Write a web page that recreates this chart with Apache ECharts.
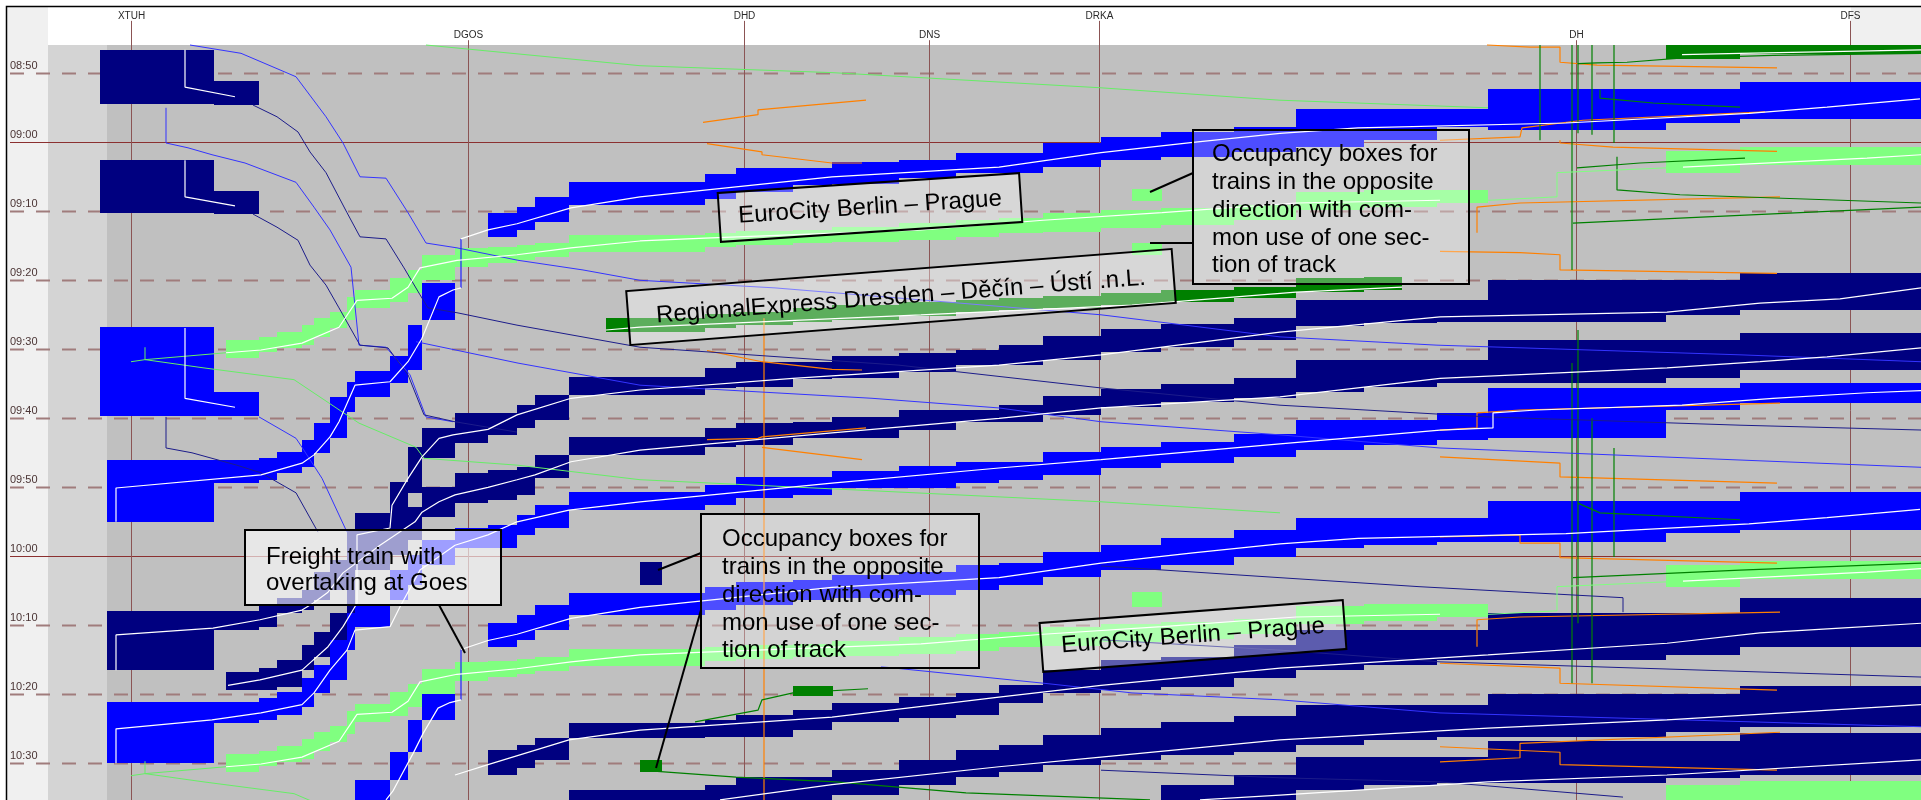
<!DOCTYPE html>
<html>
<head>
<meta charset="utf-8">
<title>Blocking time diagram XTUH - DFS</title>
<script src="https://cdn.jsdelivr.net/npm/echarts@6.0.0/dist/echarts.min.js"></script>
<style>
  html, body { margin: 0; padding: 0; background: #ffffff; }
  #chart { width: 1921px; height: 800px; }
</style>
</head>
<body>
<div id="chart"></div>
<script>
// stations (km along the line) and clock ticks (minutes after 08:00)
var stations = ['XTUH', 'DGOS', 'DHD', 'DNS', 'DRKA', 'DH', 'DFS'];
var stationKm = [6.55, 23.4, 37.2, 46.45, 54.95, 78.8, 92.5];
var timeTicks = [50, 60, 70, 80, 90, 100, 110, 120, 130, 140, 150];
var timeLabels = ['08:50', '09:00', '09:10', '09:20', '09:30', '09:40', '09:50', '10:00', '10:10', '10:20', '10:30'];

// block section limits (km)
var blockKm = [5.35, 10.7, 11.3, 12.95, 13.85, 15.1, 15.7, 16.5, 17.35, 17.75, 19.5, 20.4, 21.1, 22.75,
  24.4, 25.85, 26.75, 28.45, 35.25, 36.8, 39.65, 41.6, 44.95, 47.8, 49.95, 52.15, 55.05, 58.05,
  61.7, 64.8, 68.2, 71.85, 74.4, 83.3, 87.0, 96.05];

// blocking stairs: first value = first block section, then [occupied from, occupied to] in minutes
var freight1Main = [14, [70.2, 73.7], [69.4, 72.7], [67.9, 71.5], [65.8, 69.1], [64.6, 68.2], [63.7, 67.2], [63.7, 66.2],
  [62.9, 66.0], [62.6, 65.2], [61.5, 64.4], [61.5, 64.4], [60.1, 63.6], [59.2, 62.6], [58.5, 62.1], [57.8, 61.4],
  [55.2, 60.7], [55.2, 59.7], [55.2, 57.8], [52.3, 58.2], [52.3, 57.2], [51.3, 56.6]];
var freight1Down = [0, [106.0, 115.0], [106.0, 109.4], [106.0, 109.4], [105.8, 108.9], [104.9, 107.9], [103.1, 107.1],
  [100.7, 105.0], [96.9, 102.9], [94.7, 99.1], [93.1, 96.9], [91.0, 94.9], [86.5, 93.0], [80.4, 85.8]];
var freight2Main = [14, [129.7, 133.1], [128.5, 132.1], [127.1, 130.7], [125.3, 128.5], [124.4, 127.8], [123.7, 127.1],
  [123.4, 126.3], [122.7, 126.0], [122.3, 125.6], [121.3, 124.9], [121.0, 124.2], [119.4, 123.0], [118.4, 122.0],
  [117.3, 121.3], [116.2, 120.1], [114.4, 118.8], [114.4, 118.4], [114.4, 117.9], [112.0, 117.9], [112.0, 116.6], [110.7, 116.2]];
var freight2Down = [9, [152.4, 155.3], [148.4, 152.4], [143.7, 148.4], [139.8, 143.7]];

var ec1 = [2, [88.7, 91.3], [88.2, 90.4], [87.5, 89.8], [86.5, 89.4], [85.5, 88.2], [84.6, 86.9], [82.4, 85.8], [81.4, 84.0],
  [79.7, 83.1], [78.5, 81.8], [76.3, 80.0], [75.3, 78.1],
  [75.2, 77.5], [74.9, 77.1], [74.6, 76.6], [73.4, 75.9], [73.1, 75.2], [72.9, 74.9], [72.7, 74.6], [72.3, 74.4],
  [71.7, 74.2], [71.3, 73.7], [71.0, 73.1], [70.2, 73.0], [69.8, 72.4], [69.5, 72.0], [69.1, 71.3], [67.2, 69.8],
  [66.9, 69.4], [66.9, 68.8], null, [61.3, 64.4], [60.7, 63.3]];
var ec2 = [2, [148.7, 151.3], [148.2, 150.4], [147.5, 149.8], [146.5, 149.4], [145.5, 148.2], [144.6, 146.9], [142.4, 145.8],
  [141.4, 144.0], [139.7, 143.1], [138.5, 141.8], [136.3, 140.0], [135.3, 138.1],
  [135.2, 137.5], [134.9, 137.1], [134.6, 136.6], [133.4, 135.9], [133.1, 135.2], [132.9, 134.9], [132.7, 134.6], [132.3, 134.4],
  [131.7, 134.2], [131.3, 133.7], [131.0, 133.1], [130.2, 133.0], [129.8, 132.4], [129.5, 132.0], [129.1, 131.3], [127.2, 129.8],
  [126.9, 129.4], [126.9, 128.8], null, [121.3, 124.4], [120.7, 123.3]];
var ec3 = [33, [153.1, 156], [152.6, 156]];

var regional = [18, [84.9, 86.9], [84.6, 86.5], [84.0, 86.0], [83.6, 85.8], [83.1, 85.2], [82.9, 84.6],
  [82.6, 84.3], [82.3, 84.0], [81.8, 83.6], [81.4, 83.1], [81.0, 82.6], [79.7, 81.7]];
var regionalEnds = [[30.3, 35.25, 85.5, 87.5], [68.2, 70.1, 79.5, 81.4]];
var regionalEarlier = [33, [45.9, 47.9], [45.9, 47.2]];

var navy1Main = [14, [99.2, 102.4], [98.1, 101.4], [96.6, 100.2], [94.0, 96.6], [92.7, 95.6], [91.8, 95.5], [91.8, 94.3],
  [91.0, 94.2], [90.5, 93.3], [90.1, 92.3], [89.4, 92.3], [88.1, 91.5], [87.1, 90.4], [86.3, 89.7], [85.5, 88.7],
  [82.9, 86.6], [82.9, 86.2], [82.9, 86.0], [80.0, 86.0], [80.0, 85.0], [78.9, 84.3]];
var navy1Down = [2, [136.8, 139.4], [136.2, 139.4], [135.0, 138.9], [132.9, 136.5], [131.0, 134.6], [128.2, 132.6],
  [116.2, 130.2], [113.7, 118.1], [109.2, 115.0], [104.2, 110.8], [101.4, 105.8], [99.2, 103.6]];
var navy2Main = [14, [107.5, 111.8], [107.1, 111.1], [105.3, 108.7], [102.7, 105.3], [101.4, 104.2], [100.7, 103.9],
  [100.5, 102.9], [99.8, 102.9], [98.8, 101.7], [98.8, 100.5], [98.1, 100.5], [96.8, 99.5], [95.8, 98.4], [95.0, 97.6],
  [94.2, 97.1], [91.5, 96.2], [91.5, 95.5], [91.5, 94.9], [88.7, 94.9], [88.7, 94.2], [87.6, 93.0]];
var navy2Down = [0, [127.9, 136.5], [127.9, 130.7], [127.9, 130.7], [127.1, 130.2], [126.0, 128.2], [124.9, 127.8],
  [122.3, 126.3], [120.5, 124.9], [119.1, 123.4], [117.6, 122.0], [114.7, 119.8], [112.9, 117.6], [110.0, 114.3], [107.9, 112.3]];
var blue3Main = [14, [115.5, 118.8], [114.0, 116.9], [112.6, 115.9], [110.7, 113.3], [109.7, 112.6], [108.5, 111.5],
  [108.5, 111.1], [107.6, 110.1], [106.9, 110.1], [106.3, 109.4], [106.3, 108.9], [104.9, 108.2], [104.2, 107.2],
  [103.4, 106.5], [102.3, 105.6], [100.2, 104.6], [100.2, 103.9], [99.2, 103.1], [95.6, 102.9], [95.6, 98.8], [94.9, 97.8]];
var blue3Down = [0, [141.1, 150.0], [141.1, 144.2], [141.1, 144.2], [140.5, 143.7], [139.7, 143.0], [137.6, 141.8],
  [135.8, 139.8], [132.1, 137.9], [128.2, 133.6], [127.1, 130.2], [122.0, 126.3], [119.8, 124.2], [117.6, 121.3], [115.9, 118.8]];
var navy3 = [14, [148.1, 151.7], [147.3, 150.7], [146.3, 149.5], [144.2, 146.3], [143.7, 146.2], [143.0, 146.2], [142.3, 145.2],
  [141.3, 144.0], [140.4, 143.4], [139.8, 143.0], [138.7, 141.3], [136.5, 139.8], [135.0, 139.4], [134.6, 138.9],
  [132.9, 137.6], [130.7, 136.5], [130.7, 135.8], [130.7, 135.0], [128.2, 135.0], [128.2, 134.3], [126.0, 133.1]];
var navy4 = [17, [153.9, 156], [153.1, 156], [152.0, 155.4], [152.0, 155.4], [151.0, 154.6], [149.5, 153.1], [148.1, 152.0],
  [147.3, 151.3], [145.9, 150.2], [144.9, 149.5], [144.0, 148.8], [143.1, 148.4], [141.5, 147.3], [141.5, 146.6],
  [141.5, 146.2], [140.0, 146.2], [140.0, 145.5], [138.8, 144.7]];
var navy5 = [27, [153.1, 156], [151.7, 156], [149.1, 153.9], [149.1, 153.1], [149.1, 152.9], [146.8, 152.9], [146.8, 152.1], [145.6, 151.7]];

// station track occupation at XTUH and single occupancy boxes: [km from, km to, min from, min to]
var stationNavy = [[5.0, 10.7, 46.6, 54.4], [10.7, 12.95, 51.1, 54.6], [5.0, 10.7, 62.6, 70.2], [10.7, 12.95, 67.1, 70.4], [32.0, 33.1, 120.8, 124.2]];
var stationBlue = [[5.0, 10.7, 86.8, 99.7], [10.7, 12.95, 96.2, 99.7]];
var singleLightGreen = [[56.6, 58.1, 66.8, 68.5], [56.6, 58.1, 74.6, 76.3], [56.6, 58.1, 125.2, 127.3]];
var singleDarkGreen = [[32.0, 33.1, 149.5, 151.3], [39.65, 41.65, 138.8, 140.2]];

// train runs [km, min]
var freight1Path = [[96.0, 53.7], [91.35, 54.9], [87.45, 55.8], [78.3, 57.2], [67.9, 57.9], [64.0, 58.7], [59.65, 60.0], [55.05, 61.5],
  [49.95, 63.6], [41.6, 65.0], [32.0, 67.9], [28.55, 69.5], [25.85, 71.8], [24.4, 72.7], [23.05, 74.0]];
var freight1Wait = [[23.05, 74.0], [23.05, 81.1]];
var freight1DownPath = [[23.05, 81.1], [22.65, 81.4], [21.95, 82.4], [21.1, 88.4], [20.4, 91.8], [19.5, 94.7], [17.75, 95.2],
  [16.95, 100.5], [16.5, 102.7], [15.7, 105.3], [15.1, 106.5], [13.05, 108.2], [5.8, 110.1], [5.8, 115.0]];
var freight2Path = [[96.0, 113.2], [91.35, 114.4], [87.45, 115.3], [78.3, 116.7], [67.9, 117.4], [64.0, 118.2], [59.65, 119.5],
  [55.05, 121.0], [49.95, 123.1], [41.6, 124.5], [32.0, 127.4], [28.55, 129.0], [25.85, 131.3], [24.4, 132.2], [23.05, 133.5]];
var freight2Wait = [[23.05, 133.5], [23.05, 140.8]];
var freight2DownPath = [[23.05, 140.8], [22.5, 141.2], [21.9, 142.0], [21.15, 145.7], [20.65, 148.6], [20.0, 152.1], [19.65, 154.0], [19.3, 155.3]];
var ec1Far = [[96.05, 61.8], [93.35, 62.3], [84.15, 63.6]];
var ec1Stop = [[84.15, 63.6], [77.85, 64.4], [77.85, 67.9], [74.5, 68.4], [72.0, 68.4]];
var ec1Path = [[72.0, 68.4], [64.8, 68.8], [58.1, 70.2], [52.15, 71.3], [46.05, 72.7], [35.25, 73.9], [32.0, 74.3], [28.55, 75.3],
  [25.85, 76.3], [22.85, 77.1], [21.0, 78.2], [20.4, 81.0], [19.6, 82.6], [17.85, 82.9], [16.95, 86.8], [15.1, 89.1], [13.05, 90.1], [11.3, 90.5]];
var ec1Tail = [[11.3, 90.5], [7.25, 91.5], [7.25, 89.7]];
var ec2Far = [[96.05, 121.8], [93.35, 122.3], [84.15, 123.6]];
var ec2Stop = [[84.15, 123.6], [77.85, 124.4], [77.85, 127.9], [74.5, 128.4], [72.0, 128.4]];
var ec2Path = [[72.0, 128.4], [64.8, 128.8], [58.1, 130.2], [52.15, 131.3], [46.05, 132.7], [35.25, 133.9], [32.0, 134.3], [28.55, 135.3],
  [25.85, 136.3], [22.85, 137.1], [21.0, 138.2], [20.4, 141.0], [19.6, 142.6], [17.85, 142.9], [16.95, 146.8], [15.1, 149.1], [13.05, 150.1], [11.3, 150.5]];
var ec2Tail = [[11.3, 150.5], [7.25, 151.5], [7.25, 149.7]];
var navy1Path = [[96.05, 81.1], [92.0, 82.7], [88.0, 83.3], [83.35, 84.6], [72.0, 85.3], [64.0, 87.5], [55.05, 90.8], [49.95, 92.3],
  [39.65, 94.2], [32.0, 95.9], [28.55, 97.1], [25.85, 99.5], [24.4, 101.6], [22.65, 102.4], [21.95, 102.9], [21.1, 105.6],
  [20.4, 108.7], [19.6, 112.6], [19.5, 115.9], [17.85, 116.9], [17.85, 126.8], [17.15, 130.2], [16.4, 133.1], [15.1, 136.5], [13.0, 137.9], [11.4, 138.7]];
var navy2Path = [[96.05, 89.8], [91.35, 91.1], [88.0, 91.8], [83.35, 92.7], [72.0, 94.2], [64.0, 96.9], [55.05, 98.5], [49.95, 100.0],
  [41.6, 102.1], [32.0, 104.6], [28.55, 106.3], [26.75, 108.2], [25.85, 108.9], [24.4, 110.0], [22.75, 111.1], [21.95, 112.1],
  [21.1, 113.6], [20.75, 115.0], [19.0, 118.4], [17.15, 122.4], [16.4, 125.2], [15.65, 126.8], [15.1, 127.8], [13.0, 129.2],
  [10.65, 130.4], [5.8, 131.4], [5.8, 136.5]];
var blue3Path = [[96.05, 96.0], [93.35, 96.3], [88.65, 97.1], [84.1, 98.1], [76.85, 98.8], [74.65, 99.2], [74.65, 101.4], [72.0, 101.7],
  [64.0, 103.7], [55.05, 106.0], [49.95, 107.2], [41.6, 109.4], [32.0, 112.1], [28.45, 113.3], [25.85, 115.0], [24.4, 116.9],
  [22.75, 118.4], [21.0, 122.0], [20.0, 127.3], [19.5, 130.2], [17.75, 130.7], [17.35, 133.6], [16.5, 136.5], [15.7, 139.8],
  [15.1, 141.5], [13.05, 142.7], [10.6, 143.7], [5.8, 145.0], [5.8, 150.0]];
var navy3Path = [[96.05, 129.7], [92.0, 130.4], [88.0, 131.1], [83.35, 132.6], [74.4, 134.3], [64.0, 136.2], [55.05, 138.7],
  [49.95, 140.4], [41.6, 143.3], [32.0, 145.2], [28.45, 146.6], [24.4, 150.2], [22.75, 151.7]];
var navy4Path = [[96.05, 141.5], [83.35, 143.7], [74.4, 144.9], [64.0, 146.6], [55.05, 149.1], [49.95, 150.5], [41.6, 153.1], [36.0, 155.3]];
var navy5Path = [[96.05, 149.5], [83.35, 151.7], [74.4, 152.7], [64.0, 154.6], [60.0, 155.3]];
var regionalPath = [[70.1, 81.0], [64.8, 81.7], [56.6, 83.6], [46.05, 85.0], [32.0, 86.8], [30.3, 87.2]];
var regionalEarlierPath = [[84.1, 47.3], [87.0, 47.1], [96.05, 46.6]];
var xtuhDep1 = [[9.25, 46.6], [9.25, 52.0], [11.75, 53.4]];
var xtuhDep2 = [[9.25, 62.6], [9.25, 67.9], [11.75, 69.2]];
var xtuhDep3 = [[9.25, 86.9], [9.25, 97.1], [11.75, 98.4]];

// opposite direction runs (thin lines)
var blueRuns = [
  [[9.5, 45.9], [12.05, 47.1], [14.8, 50.5], [16.3, 56.3], [17.15, 60.1], [18.0, 65.0], [19.3, 65.2], [20.4, 70.2], [21.3, 74.6],
   [22.85, 75.3], [25.9, 77.1], [29.15, 78.5], [32.0, 80.0], [38.75, 81.1], [45.05, 82.6], [55.05, 85.0], [64.0, 88.2],
   [71.85, 89.4], [87.0, 90.8], [96.05, 91.8]],
  [[8.3, 55.0], [8.3, 60.1], [9.4, 60.8], [10.6, 61.8], [12.25, 63.0], [14.8, 65.8], [15.7, 69.4], [16.5, 72.7], [17.55, 78.1],
   [17.95, 89.4], [19.3, 89.7], [20.5, 93.7], [21.3, 99.8], [22.65, 100.5]],
  [[12.95, 99.8], [14.8, 102.9], [15.1, 104.2], [16.1, 108.7], [17.35, 116.5]],
  [[20.8, 88.9], [25.9, 92.0], [32.0, 95.2], [43.6, 97.1], [49.95, 98.5], [55.05, 100.5], [64.0, 102.4], [72.0, 104.3], [96.05, 107.1]],
  [[44.05, 136.0], [52.2, 138.4], [56.6, 139.8], [64.0, 140.8], [72.0, 142.7], [96.05, 144.7]]
];
var navyRuns = [
  [[12.65, 54.6], [13.85, 56.3], [14.9, 58.5], [15.5, 61.4], [16.3, 64.4], [17.35, 70.2], [18.0, 73.7], [19.3, 74.0], [20.2, 78.2],
   [21.0, 82.1], [21.4, 84.0], [22.85, 84.7], [25.85, 86.5], [32.0, 89.7], [44.95, 92.3], [55.05, 95.6], [64.0, 98.1],
   [74.4, 99.8], [87.0, 101.0], [96.05, 101.7]],
  [[12.65, 70.4], [13.85, 72.3], [14.9, 74.2], [15.5, 77.8], [16.3, 80.7], [16.95, 84.0], [18.0, 89.4], [19.4, 89.8], [20.4, 93.7],
   [21.2, 99.5], [22.75, 100.5], [25.85, 102.0]],
  [[8.3, 99.8], [8.3, 104.3], [9.6, 105.0], [11.85, 106.8], [13.05, 107.9], [14.8, 110.8], [15.9, 116.5]],
  [[55.05, 132.1], [64.0, 133.6], [72.0, 135.3], [96.05, 137.5]],
  [[55.05, 121.4], [64.0, 123.1], [70.95, 124.4], [81.15, 126.0], [81.15, 128.1]],
  [[55.05, 151.0], [64.0, 152.1], [72.0, 152.7], [81.15, 154.9]]
];
var lightGreenRuns = [
  [[6.55, 91.8], [7.25, 91.5], [10.2, 92.7], [14.7, 94.4], [17.95, 100.7], [20.8, 104.2], [21.2, 105.8], [25.9, 106.8],
   [32.0, 108.9], [45.05, 110.7], [55.05, 112.1], [64.0, 113.7]],
  [[21.3, 45.9], [32.0, 48.9], [41.6, 49.9], [55.05, 52.1], [64.0, 53.9], [74.4, 55.0]],
  [[6.55, 151.8], [7.25, 151.5], [10.2, 152.7], [14.7, 154.4], [16.0, 156.0]]
];
var darkGreenRuns = [
  [[77.0, 45.9], [77.0, 59.7]], [[78.6, 45.9], [78.6, 78.5]], [[78.6, 92.0], [78.6, 138.4]], [[78.9, 45.9], [78.9, 58.7]],
  [[78.9, 87.2], [78.9, 129.7]], [[79.6, 45.9], [79.6, 58.9]], [[79.6, 100.0], [79.6, 138.4]], [[80.7, 45.9], [80.7, 60.1]],
  [[80.7, 104.3], [80.7, 120.1]],
  [[80.0, 52.4], [80.0, 53.6], [82.65, 54.3], [87.0, 54.9]],
  [[78.9, 48.6], [79.85, 48.5], [81.35, 48.4], [84.0, 47.8], [88.65, 47.4], [96.05, 47.1]],
  [[80.85, 62.1], [80.85, 66.9], [84.0, 67.6], [96.05, 68.8]],
  [[78.85, 63.7], [82.0, 63.0], [87.25, 62.3]],
  [[78.65, 71.7], [85.35, 70.8], [96.05, 69.4]],
  [[78.65, 123.1], [87.0, 122.0], [96.05, 121.0]],
  [[78.9, 112.3], [80.0, 113.7], [87.0, 114.7]],
  [[34.75, 144.0], [37.9, 142.3], [38.1, 140.8], [39.65, 139.8], [43.4, 139.2]],
  [[32.0, 151.0], [36.8, 152.0], [41.8, 152.7], [48.3, 154.3], [57.5, 155.3]]
];
var orangeRuns = [
  [[74.35, 45.9], [76.5, 46.2], [78.0, 46.2], [78.0, 48.4], [79.85, 48.8], [88.85, 49.2]],
  [[72.0, 59.7], [76.0, 59.2], [76.1, 57.9], [79.15, 56.8], [88.25, 55.6]],
  [[78.0, 59.7], [78.0, 60.1], [80.65, 60.7], [88.85, 61.3]],
  [[72.0, 75.8], [76.0, 76.0], [78.0, 76.3], [78.0, 78.5], [88.85, 79.0]],
  [[73.85, 73.1], [73.85, 69.4], [76.0, 68.8], [89.0, 67.9]],
  [[72.0, 105.6], [78.0, 106.5], [78.0, 108.5], [88.85, 109.4]],
  [[72.0, 101.7], [73.85, 101.4], [73.85, 99.2], [76.0, 98.8], [89.0, 97.8]],
  [[72.0, 117.2], [76.0, 116.9], [76.0, 118.1], [78.0, 118.1], [78.0, 120.2], [88.85, 121.0]],
  [[73.85, 133.1], [73.85, 129.2], [76.0, 128.8], [89.0, 128.1]],
  [[72.0, 135.5], [78.0, 136.2], [78.0, 138.4], [88.85, 139.4]],
  [[72.0, 149.8], [76.0, 149.2], [76.0, 147.1], [89.0, 145.5]],
  [[72.0, 147.6], [78.0, 148.4], [78.0, 150.2], [88.85, 151.0]],
  [[35.15, 57.1], [37.9, 56.0], [37.9, 55.3], [43.3, 53.9]],
  [[35.35, 60.2], [38.1, 61.4], [38.1, 61.8], [41.6, 63.0], [43.1, 63.0]],
  [[35.35, 90.2], [38.1, 91.8], [41.6, 92.9], [43.1, 93.0]],
  [[35.35, 103.1], [37.9, 102.9], [38.1, 102.7], [43.3, 101.4]],
  [[38.1, 104.2], [43.1, 106.0]],
  [[38.2, 85.5], [38.2, 156.0]]
];

function bandBoxes(band) {
  var out = [];
  for (var i = 1; i < band.length; i++) {
    var s = band[0] + i - 1;
    if (band[i]) out.push([blockKm[s], blockKm[s + 1], band[i][0], band[i][1]]);
  }
  return out;
}

function boxSeries(boxes, color) {
  return {
    type: 'custom', z: 2, silent: true, clip: true, data: boxes,
    encode: { x: [0, 1], y: [2, 3] },
    renderItem: function (params, api) {
      var a = api.coord([api.value(0), api.value(2)]);
      var b = api.coord([api.value(1), api.value(3)]);
      var x = Math.round(a[0]), y = Math.round(a[1]);
      return {
        type: 'rect',
        shape: { x: x, y: y, width: Math.round(b[0]) - x, height: Math.round(b[1]) - y },
        style: { fill: color }
      };
    }
  };
}

function runSeries(data, color, width, z) {
  return {
    type: 'line', data: data, symbol: 'none', showSymbol: false, silent: true, clip: true, z: z || 3,
    lineStyle: { color: color, width: width || 1 }
  };
}

var series = [];

// background zones
series.push({
  type: 'custom', z: 0, silent: true, data: [[0]],
  renderItem: function (params, api) {
    function zone(k1, k2, t1, t2, fill) {
      var a = api.coord([k1, t1]), b = api.coord([k2, t2]);
      return { type: 'rect', shape: { x: a[0], y: a[1], width: b[0] - a[0], height: b[1] - a[1] }, style: { fill: fill } };
    }
    return {
      type: 'group', children: [
        zone(0.35, 96.05, 40.39, 155.32, '#c0c0c0'),
        zone(2.4, 5.35, 45.9, 155.32, '#d4d4d4'),
        zone(2.4, 92.55, 40.39, 45.9, '#ffffff'),
        zone(92.55, 96.05, 40.39, 45.9, '#f0f0f0'),
        zone(0.35, 2.4, 40.39, 155.32, '#f0f0f0')
      ]
    };
  }
});

// clock lines with labels
series.push({
  type: 'custom', z: 1, silent: true,
  data: timeTicks.map(function (t, i) { return [t, i]; }),
  renderItem: function (params, api) {
    var i = api.value(1);
    var y = Math.round(api.coord([0.35, api.value(0)])[1]) + 0.5;
    var x0 = params.coordSys.x + 3, x1 = params.coordSys.x + params.coordSys.width;
    var full = timeLabels[i].slice(3) === '00';
    return {
      type: 'group', children: [
        { type: 'line', shape: { x1: x0, y1: y, x2: x1, y2: y },
          style: full ? { stroke: '#8b3030', lineWidth: 1.2 } : { stroke: '#a07c7c', lineWidth: 2, lineDash: [14, 12] } },
        { type: 'text', style: { text: timeLabels[i], x: x0, y: y - 2, fill: '#4a3434',
          font: '11px "Liberation Sans", Arial, sans-serif',
          textAlign: 'left', textVerticalAlign: 'bottom', align: 'left', verticalAlign: 'bottom' } }
      ]
    };
  }
});

// station lines with labels
series.push({
  type: 'custom', z: 1, silent: true,
  data: stationKm.map(function (k, i) { return [k, i]; }),
  renderItem: function (params, api) {
    var i = api.value(1), row = i % 2;
    var x = Math.round(api.coord([api.value(0), 50])[0]) + 0.5;
    var yLabel = api.coord([0.35, row ? 44.45 : 41.7])[1];
    var yTop = api.coord([0.35, row ? 45.2 : 42.4])[1];
    var yBottom = params.coordSys.y + params.coordSys.height;
    return {
      type: 'group', children: [
        { type: 'line', shape: { x1: x, y1: yTop, x2: x, y2: yBottom }, style: { stroke: '#8b5454', lineWidth: 1 } },
        { type: 'text', style: { text: stations[i], x: x, y: yLabel, fill: '#2a2a2a',
          font: '10px "Liberation Sans", Arial, sans-serif',
          textAlign: 'center', textVerticalAlign: 'middle', align: 'center', verticalAlign: 'middle' } }
      ]
    };
  }
});

var darkGreenBoxes = bandBoxes(regional).concat(regionalEnds, bandBoxes(regionalEarlier), singleDarkGreen);
var navyBoxes = stationNavy.concat(bandBoxes(navy1Main), bandBoxes(navy1Down), bandBoxes(navy2Main), bandBoxes(navy2Down),
  bandBoxes(navy3), bandBoxes(navy4), bandBoxes(navy5));
var blueBoxes = stationBlue.concat(bandBoxes(freight1Main), bandBoxes(freight1Down), bandBoxes(freight2Main),
  bandBoxes(freight2Down), bandBoxes(blue3Main), bandBoxes(blue3Down));
var lightGreenBoxes = bandBoxes(ec1).concat(bandBoxes(ec2), bandBoxes(ec3), singleLightGreen);

series.push(boxSeries(darkGreenBoxes, '#008000'));
series.push(boxSeries(navyBoxes, '#000080'));
series.push(boxSeries(blueBoxes, '#0000ff'));
series.push(boxSeries(lightGreenBoxes, '#80ff80'));

orangeRuns.forEach(function (r) { series.push(runSeries(r, '#ff8000', 1.2)); });
darkGreenRuns.forEach(function (r) { series.push(runSeries(r, '#008000', 1.2)); });
lightGreenRuns.forEach(function (r) { series.push(runSeries(r, '#66ee66', 1)); });
blueRuns.forEach(function (r) { series.push(runSeries(r, '#3333ff', 1)); });
navyRuns.forEach(function (r) { series.push(runSeries(r, '#1c1c8a', 1)); });

series.push(runSeries(freight1Wait, '#2020ff', 1.2));
series.push(runSeries(freight2Wait, '#2020ff', 1.2));
series.push(runSeries(ec1Stop, '#80ff80', 1));
series.push(runSeries(ec2Stop, '#80ff80', 1));
series.push(runSeries(ec1Tail, '#66ee66', 1));
series.push(runSeries(ec2Tail, '#66ee66', 1));
[freight1Path, freight1DownPath, freight2Path, freight2DownPath, ec1Far, ec1Path, ec2Far, ec2Path, navy1Path, navy2Path,
  blue3Path, navy3Path, navy4Path, navy5Path, regionalPath, regionalEarlierPath, xtuhDep1, xtuhDep2, xtuhDep3]
  .forEach(function (r) { series.push(runSeries(r, '#ffffff', 1.2, 4)); });

// annotations
var noteFont = '24px "Liberation Sans", Arial, sans-serif';
function tiltedNote(cx, cy, w, h, rot, text) {
  return {
    type: 'group', x: cx, y: cy, rotation: rot, z: 100,
    children: [
      { type: 'rect', z: 100, shape: { x: -w / 2, y: -h / 2, width: w, height: h },
        style: { fill: 'rgba(255,255,255,0.36)', stroke: '#000', lineWidth: 2 } },
      { type: 'text', z: 101, style: { text: text, x: 0, y: 0, font: noteFont, fill: '#000',
        textAlign: 'center', textVerticalAlign: 'middle', align: 'center', verticalAlign: 'middle' } }
    ]
  };
}
function textNote(x, y, w, h, alpha, tx, ty, lh, text) {
  return {
    type: 'group', z: 100,
    children: [
      { type: 'rect', z: 100, shape: { x: x, y: y, width: w, height: h },
        style: { fill: 'rgba(255,255,255,' + alpha + ')', stroke: '#000', lineWidth: 2 } },
      { type: 'text', z: 101, style: { text: text, x: tx, y: ty, font: noteFont, lineHeight: lh, fill: '#000',
        textAlign: 'left', textVerticalAlign: 'top', align: 'left', verticalAlign: 'top' } }
    ]
  };
}
function leader(x1, y1, x2, y2) {
  return { type: 'line', z: 102, shape: { x1: x1, y1: y1, x2: x2, y2: y2 }, style: { stroke: '#000', lineWidth: 2 } };
}

var chart = echarts.init(document.getElementById('chart'), null, { renderer: 'canvas' });
chart.setOption({
  animation: false,
  backgroundColor: '#ffffff',
  grid: { left: 7, top: 7, right: 0, bottom: 0 },
  xAxis: { type: 'value', min: 0.35, max: 96.05, show: false },
  yAxis: { type: 'value', min: 40.39, max: 155.32, inverse: true, show: false },
  series: series,
  graphic: {
    elements: [
      tiltedNote(870, 207.5, 302, 49, 0.066, 'EuroCity Berlin \u2013 Prague'),
      tiltedNote(901, 297, 547, 54, 0.077, 'RegionalExpress Dresden \u2013 D\u011b\u010d\u00edn \u2013 \u00dast\u00ed .n.L.'),
      tiltedNote(1193, 636, 304, 49, 0.075, 'EuroCity Berlin \u2013 Prague'),
      textNote(1193, 130, 276, 154, 0.3, 1212, 141, 27.7,
        'Occupancy boxes for\ntrains in the opposite\ndirection with com-\nmon use of one sec-\ntion of track'),
      textNote(701, 514, 278, 154, 0.3, 722, 526, 27.7,
        'Occupancy boxes for\ntrains in the opposite\ndirection with com-\nmon use of one sec-\ntion of track'),
      textNote(245, 530, 256, 75, 0.62, 266, 544, 26, 'Freight train with\novertaking at Goes'),
      leader(1193, 173, 1150, 192),
      leader(1193, 243, 1150, 243),
      leader(701, 553, 658, 570),
      leader(701, 610, 656, 768),
      leader(439, 605, 465, 653),
      { type: 'rect', z: 110, shape: { x: 6.5, y: 6.5, width: 1930, height: 810 },
        style: { fill: 'none', stroke: '#000', lineWidth: 1.5 } }
    ]
  }
});
</script>
</body>
</html>
